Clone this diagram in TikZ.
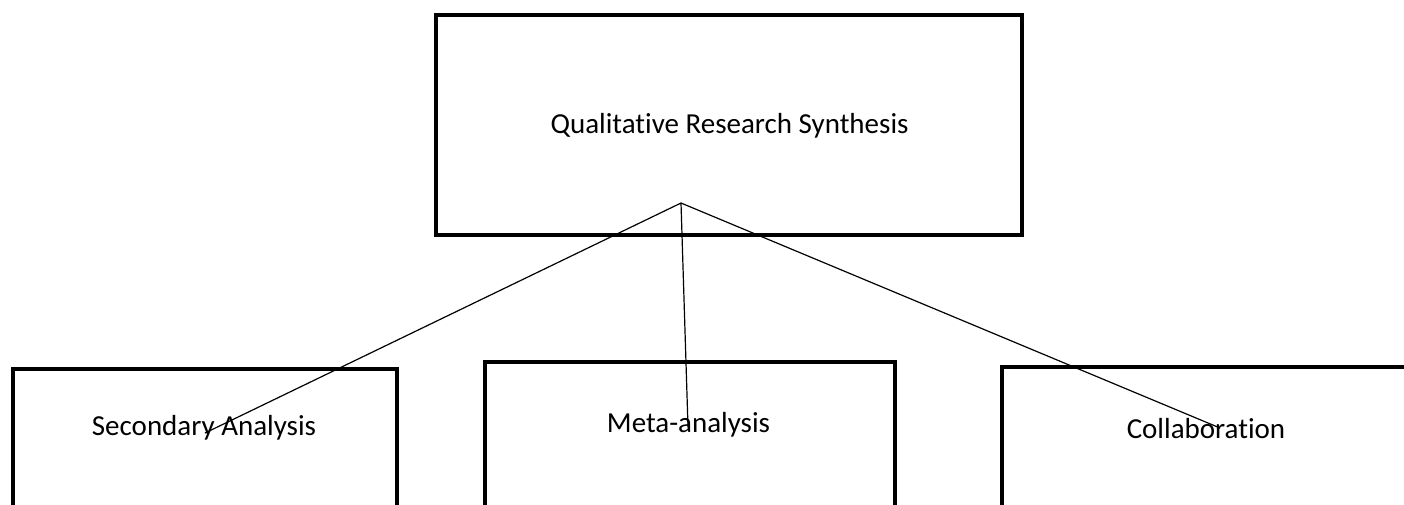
\documentclass[tikz,border=0pt]{standalone}
\usepackage{fontspec}
\setmainfont{Carlito}[Ligatures={NoCommon}]
\usepackage{tikz}
\usetikzlibrary{calc, positioning}

\begin{document}
\begin{tikzpicture}[x=1pt,y=-1pt,
      box/.style={draw,line width=4pt,minimum width=#1,inner sep=0pt},
      lbl/.style={anchor=base,font=\fontsize{29}{34}\selectfont,inner sep=0pt},
      link/.style={line width=1.2pt}]
      \useasboundingbox (0,0) rectangle (1404,504);
      \clip (0,0) rectangle (1404,504);
      \node[box=586pt,minimum height=220pt] (qrs) at (729,125) {};
      \node[box=384pt,minimum height=140pt] (sec) at (205,439) {};
      \node[box=410pt,minimum height=145pt] (meta) at (690,434.5) {};
      \node[box=408pt,minimum height=140pt] (coll) at (1206,437) {};
      \node[lbl] (qrstxt) at (729.5,133) {Qualitative Research Synthesis};
      \node[lbl] (sectxt) at (204,435) {Secondary Analysis};
      \node[lbl] (metatxt) at (688.5,432) {Meta-analysis};
      \node[lbl] (colltxt) at (1206,438) {Collaboration};
      \coordinate (apex) at (681,203);
      \coordinate (secend) at (205,433);
      \coordinate (metaend) at (688,427);
      \coordinate (collend) at (1220,428);
      \foreach \e in {secend, metaend, collend}
          \draw[link] (apex) -- (\e);
\end{tikzpicture}
\end{document}
